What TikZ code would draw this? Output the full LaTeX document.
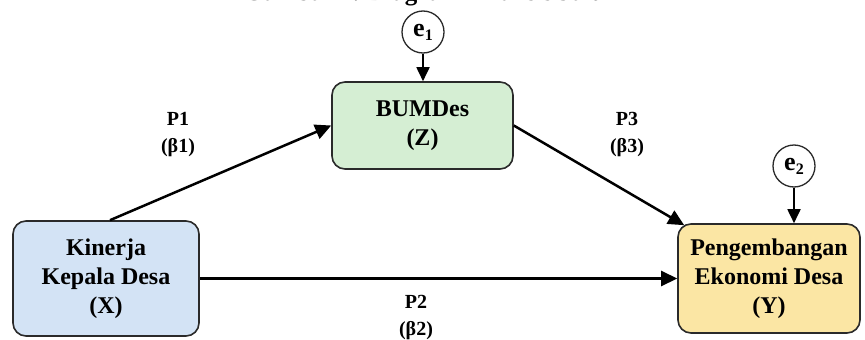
\documentclass[tikz,border=0pt]{standalone}
\usepackage{fontspec}
\setmainfont{Liberation Serif}
\usetikzlibrary{arrows.meta,calc}
\definecolor{xblue}{HTML}{D3E3F5}
\definecolor{zgreen}{HTML}{D5EED3}
\definecolor{yyellow}{HTML}{FBE6A4}
\definecolor{edge}{HTML}{2A2A2A}
\begin{document}
\begin{tikzpicture}[x=1pt,y=-1pt,
  box/.style={draw=edge, line width=1.6pt, rounded corners=13pt, align=center, inner sep=0pt,
    font=\fontsize{24}{29}\selectfont\bfseries},
  err/.style={draw=edge, line width=1.3pt, circle, minimum size=42pt, inner sep=0pt,
    font=\fontsize{26}{29}\selectfont\bfseries},
  lab/.style={align=center, font=\fontsize{20}{27}\selectfont\bfseries},
  arr/.style={line width=2.5pt, draw=black, -{Triangle[length=16pt,width=15pt]}},
  earr/.style={line width=1.8pt, draw=black, -{Triangle[length=14pt,width=13pt]}},
]
\useasboundingbox (0,0) rectangle (865,340);
\clip (0,0) rectangle (865,340);
\fill[white] (0,0) rectangle (865,340);

\node[anchor=base, font=\fontsize{25}{30}\selectfont\bfseries] (title) at (430,0.8) {Gambar 1. Diagram Analisis Jalur};

\node[box, fill=xblue, minimum width=186pt, minimum height=115pt] (X) at (106,278.5) {Kinerja\\Kepala Desa\\(X)};
\node[box, fill=zgreen, minimum width=181pt, minimum height=87pt] (Z) at (422.5,125.5) {BUMDes\\(Z)};
\node[box, fill=yyellow, minimum width=182pt, minimum height=109pt] (Y) at (769,278.5) {Pengembangan\\Ekonomi Desa\\(Y)};

\node[err] (e1) at (423,32) {e\raisebox{-4pt}{\fontsize{16}{16}\selectfont 1}};
\node[err] (e2) at (794,166) {e\raisebox{-4pt}{\fontsize{16}{16}\selectfont 2}};

\node[lab] (p1) at (178,135) {P1\\(β1)};
\node[lab] (p3) at (627,135) {P3\\(β3)};
\node[lab] (p2) at (416,318) {P2\\(β2)};

\draw[arr] ([xshift=4pt]X.north) -- (Z.west);
\draw[arr] (Z.east) -- ([xshift=7pt,yshift=-2pt]Y.north west);
\draw[arr] (X.east) -- (Y.west);
\draw[earr] (e1.south) -- (e1.south |- Z.north);
\draw[earr] (e2.south) -- (e2.south |- Y.north);
\end{tikzpicture}
\end{document}
